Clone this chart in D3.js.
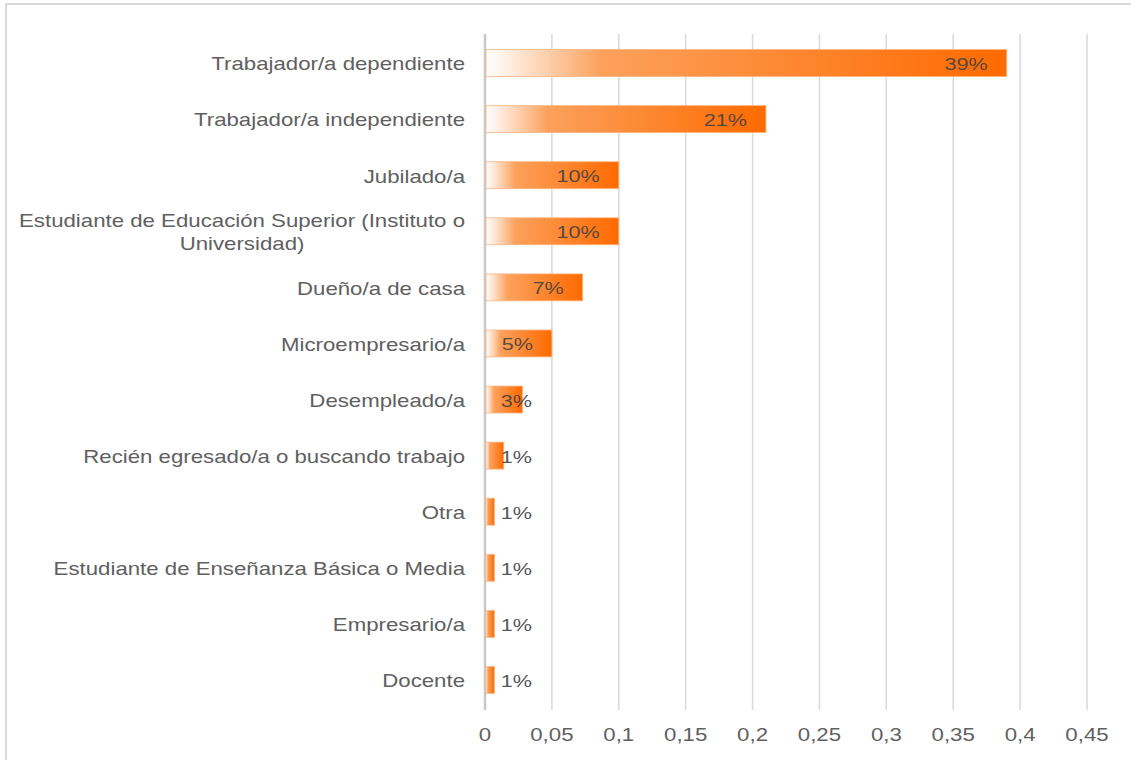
<!DOCTYPE html>
<html>
<head>
<meta charset="utf-8">
<script src="https://cdn.jsdelivr.net/npm/d3@7"></script>
<style>
  html, body { margin:0; padding:0; background:#fff; }
  svg { display:block; }
  text { font-family: "Liberation Sans", Arial, sans-serif; }
</style>
</head>
<body>
<svg id="chart" width="1131" height="760"></svg>
<script>
const categories = [
  'Trabajador/a dependiente',
  'Trabajador/a independiente',
  'Jubilado/a',
  'Estudiante de Educación Superior (Instituto o|Universidad)',
  'Dueño/a de casa',
  'Microempresario/a',
  'Desempleado/a',
  'Recién egresado/a o buscando trabajo',
  'Otra',
  'Estudiante de Enseñanza Básica o Media',
  'Empresario/a',
  'Docente'
];
const values = [0.39, 0.21, 0.10, 0.10, 0.073, 0.05, 0.028, 0.014, 0.007, 0.007, 0.007, 0.007];
const valueLabels = ['39%', '21%', '10%', '10%', '7%', '5%', '3%', '1%', '1%', '1%', '1%', '1%'];
const tickValues = [0, 0.05, 0.1, 0.15, 0.2, 0.25, 0.3, 0.35, 0.4, 0.45];
const tickLabels = ['0', '0,05', '0,1', '0,15', '0,2', '0,25', '0,3', '0,35', '0,4', '0,45'];

const width = 1131, height = 760;
const margin = {top:35, left:485, right:44, bottom:52};
const stretch = 1.27;    // text in the picture is wider than it is tall
const catStretch = 1.235;

const svg = d3.select('#chart');

const x = d3.scaleLinear()
  .domain([0, 0.45])
  .range([margin.left, width - margin.right]);

const y = d3.scaleBand()
  .domain(categories)
  .range([margin.top, height - margin.bottom])
  .paddingInner(0.52)
  .paddingOuter(0.26);

// gradient for the bars
const grad = svg.append('defs').append('linearGradient')
  .attr('id', 'barGrad')
  .attr('x1', 0).attr('x2', 1).attr('y1', 0).attr('y2', 0);
grad.append('stop').attr('offset', 0).attr('stop-color', '#ffffff').attr('stop-opacity', 0.9);
grad.append('stop').attr('offset', 0.22).attr('stop-color', '#fca15c');
grad.append('stop').attr('offset', 1).attr('stop-color', '#ff6a00');

// frame of the chart area
svg.append('rect')
  .attr('x', 6).attr('y', 4)
  .attr('width', width + 20).attr('height', height + 20)
  .attr('fill', 'none')
  .attr('stroke', '#d9d9d9')
  .attr('stroke-width', 2);

// gridlines + ticks
const grid = svg.append('g').attr('class', 'grid');
grid.selectAll('line')
  .data(tickValues)
  .join('line')
    .attr('x1', d => x(d)).attr('x2', d => x(d))
    .attr('y1', margin.top - 1)
    .attr('y2', height - margin.bottom + 2)
    .attr('stroke', d => d === 0 ? '#c8c8c8' : '#d9d9d9')
    .attr('stroke-width', d => d === 0 ? 2.5 : 1.5);

// tick labels
svg.append('g')
  .selectAll('g')
  .data(tickValues)
  .join('g')
    .attr('transform', d => `translate(${x(d)},741) scale(${stretch},1)`)
  .append('text')
    .attr('text-anchor', 'middle')
    .attr('font-size', 17.5)
    .attr('fill', '#606060')
    .text((d, i) => tickLabels[i]);

// bars
svg.append('g')
  .selectAll('rect')
  .data(values)
  .join('rect')
    .attr('x', x(0) + 1)
    .attr('y', (d, i) => y(categories[i]))
    .attr('width', d => x(d) - x(0) - 1)
    .attr('height', y.bandwidth())
    .attr('fill', 'url(#barGrad)')
    .attr('stroke', '#fbb47f')
    .attr('stroke-width', 0.8);

// category labels
const cat = svg.append('g')
  .selectAll('g')
  .data(categories)
  .join('g')
    .attr('transform', d => `translate(465,${y(d) + y.bandwidth() / 2 + 1})`);

cat.each(function(d){
  const g = d3.select(this);
  const lines = d.split('|');
  const inner = g.append('g').attr('transform', `scale(${catStretch},1)`);
  if(lines.length === 1){
    inner.append('text')
      .attr('text-anchor', 'end')
      .attr('dy', '0.35em')
      .attr('font-size', 18)
      .attr('fill', '#606060')
      .text(lines[0]);
  } else {
    const first = inner.append('text')
      .attr('text-anchor', 'end')
      .attr('y', -12)
      .attr('dy', '0.35em')
      .attr('font-size', 18)
      .attr('fill', '#606060')
      .text(lines[0]);
    const w = first.node().getComputedTextLength();
    inner.append('text')
      .attr('text-anchor', 'middle')
      .attr('x', -w / 2)
      .attr('y', 11)
      .attr('dy', '0.35em')
      .attr('font-size', 18)
      .attr('fill', '#606060')
      .text(lines[1]);
  }
});

// value labels
svg.append('g')
  .selectAll('g')
  .data(values)
  .join('g')
    .attr('transform', (d, i) => `translate(${Math.max(x(d) - 19, x(0) + 47)},${y(categories[i]) + y.bandwidth() / 2 + 1}) scale(${stretch},1)`)
  .append('text')
    .attr('text-anchor', 'end')
    .attr('dy', '0.35em')
    .attr('font-size', 17)
    .attr('fill', '#404040')
    .attr('fill-opacity', 0.9)
    .text((d, i) => valueLabels[i]);
</script>
</body>
</html>
